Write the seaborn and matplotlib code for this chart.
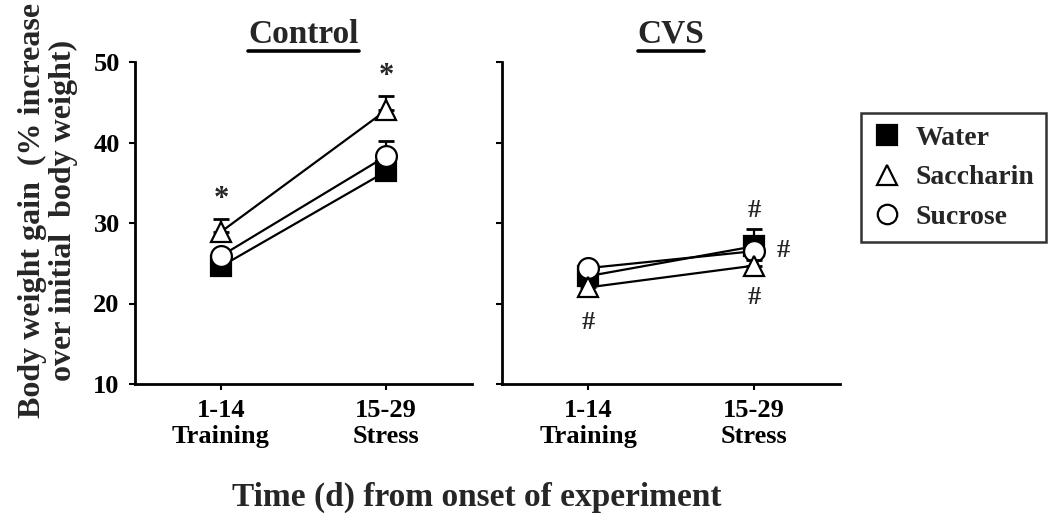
import numpy as np
import pandas as pd
import seaborn as sns
import matplotlib.pyplot as plt
from matplotlib.lines import Line2D

# dados
periods = [0, 1]
period_labels = ['1-14\nTraining', '15-29\nStress']
groups = ['Water', 'Saccharin', 'Sucrose']

control_water = [24.6, 36.4]
control_sacch = [28.9, 44.0]
control_sucr = [25.9, 38.3]
control_water_err = [0.8, 1.0]
control_sacch_err = [1.6, 1.8]
control_sucr_err = [0.8, 1.9]

cvs_water = [23.4, 27.1]
cvs_sacch = [22.0, 24.7]
cvs_sucr = [24.4, 26.5]
cvs_water_err = [0.8, 2.2]
cvs_sacch_err = [0.6, 0.7]
cvs_sucr_err = [0.6, 0.6]

sns.set_theme(style='ticks')
plt.rcParams['font.family'] = ['Liberation Serif', 'DejaVu Serif']
plt.rcParams['font.weight'] = 'bold'

estilo = {
    'Water': dict(marker='s', mfc='black', z=3),
    'Saccharin': dict(marker='^', mfc='white', z=5),
    'Sucrose': dict(marker='o', mfc='white', z=4),
}

fig = plt.figure(figsize=(10.5, 5.24), dpi=100)
ax1 = fig.add_axes([135 / 1050, 1 - 384 / 524, 337 / 1050, 322 / 524])
ax2 = fig.add_axes([502 / 1050, 1 - 384 / 524, 338 / 1050, 322 / 524])


def painel(ax, valores, erros, titulo):
    for g in groups:
        df = pd.DataFrame({'periodo': periods, 'ganho': valores[g]})
        e = estilo[g]
        ax.errorbar(periods, valores[g], yerr=[[0, 0], erros[g]], fmt='none',
                    ecolor='black', elinewidth=1.6, capsize=6, capthick=2,
                    zorder=e['z'] - 0.5)
        sns.lineplot(data=df, x='periodo', y='ganho', ax=ax, color='black',
                     linewidth=1.6, marker=e['marker'], markersize=15,
                     markerfacecolor=e['mfc'], markeredgecolor='black',
                     markeredgewidth=1.6, zorder=e['z'])
    ax.set_xlim(-0.52, 1.52)
    ax.set_ylim(10, 50)
    ax.set_xticks(periods)
    ax.set_xticklabels(period_labels, fontsize=19, fontweight='bold', linespacing=1.15)
    ax.set_yticks([10, 20, 30, 40, 50])
    ax.set_xlabel('')
    ax.set_ylabel('')
    ax.tick_params(axis='both', width=1.5, length=4, colors='black', pad=7)
    for s in ['left', 'bottom']:
        ax.spines[s].set_linewidth(2)
        ax.spines[s].set_color('black')
    sns.despine(ax=ax)
    ax.set_title(titulo, fontsize=24, fontweight='bold', pad=14)


painel(ax1,
       {'Water': control_water, 'Saccharin': control_sacch, 'Sucrose': control_sucr},
       {'Water': control_water_err, 'Saccharin': control_sacch_err, 'Sucrose': control_sucr_err},
       'Control')
painel(ax2,
       {'Water': cvs_water, 'Saccharin': cvs_sacch, 'Sucrose': cvs_sucr},
       {'Water': cvs_water_err, 'Saccharin': cvs_sacch_err, 'Sucrose': cvs_sucr_err},
       'CVS')

for lbl in ax1.get_yticklabels():
    lbl.set_fontsize(19)
    lbl.set_fontweight('bold')
ax2.set_yticklabels([])

# sublinhado dos titulos
fig.canvas.draw()
for ax in (ax1, ax2):
    bb = ax.title.get_window_extent().transformed(fig.transFigure.inverted())
    fig.add_artist(Line2D([bb.x0, bb.x1], [bb.y0 - 0.003, bb.y0 - 0.003],
                          color='black', linewidth=2.6, transform=fig.transFigure))

# marcas de significancia
ax1.text(0, 32.9, '*', ha='center', va='center', fontsize=22)
ax1.text(1, 48.2, '*', ha='center', va='center', fontsize=22)
ax2.text(0, 17.6, '#', ha='center', va='center', fontsize=19)
ax2.text(1, 31.6, '#', ha='center', va='center', fontsize=19)
ax2.text(1.18, 26.6, '#', ha='center', va='center', fontsize=19)
ax2.text(1, 20.7, '#', ha='center', va='center', fontsize=19)

# rotulos dos eixos
fig.text(48 / 1050, 1 - 210 / 524, 'Body weight gain  (% increase\nover initial  body weight)',
         rotation=90, ha='center', va='center', fontsize=23, fontweight='bold',
         linespacing=1.1, multialignment='center')
fig.text(477 / 1050, 1 - 497 / 524, 'Time (d) from onset of experiment',
         ha='center', va='center', fontsize=24, fontweight='bold')

# legenda
handles = [
    Line2D([], [], linestyle='none', marker='s', markersize=15, mfc='black', mec='black', mew=1.6),
    Line2D([], [], linestyle='none', marker='^', markersize=15, mfc='white', mec='black', mew=1.6),
    Line2D([], [], linestyle='none', marker='o', markersize=14, mfc='white', mec='black', mew=1.6),
]
leg = fig.legend(handles, groups, loc='upper left', bbox_to_anchor=(861 / 1050, 1 - 113 / 524),
                 frameon=True, fancybox=False, handlelength=1.0, borderaxespad=0,
                 handletextpad=0.5, borderpad=0.45, labelspacing=0.5,
                 prop={'weight': 'bold', 'size': 20})
leg.get_frame().set_edgecolor('black')
leg.get_frame().set_linewidth(1.8)

fig.savefig('out.png', dpi=100, facecolor='white')
